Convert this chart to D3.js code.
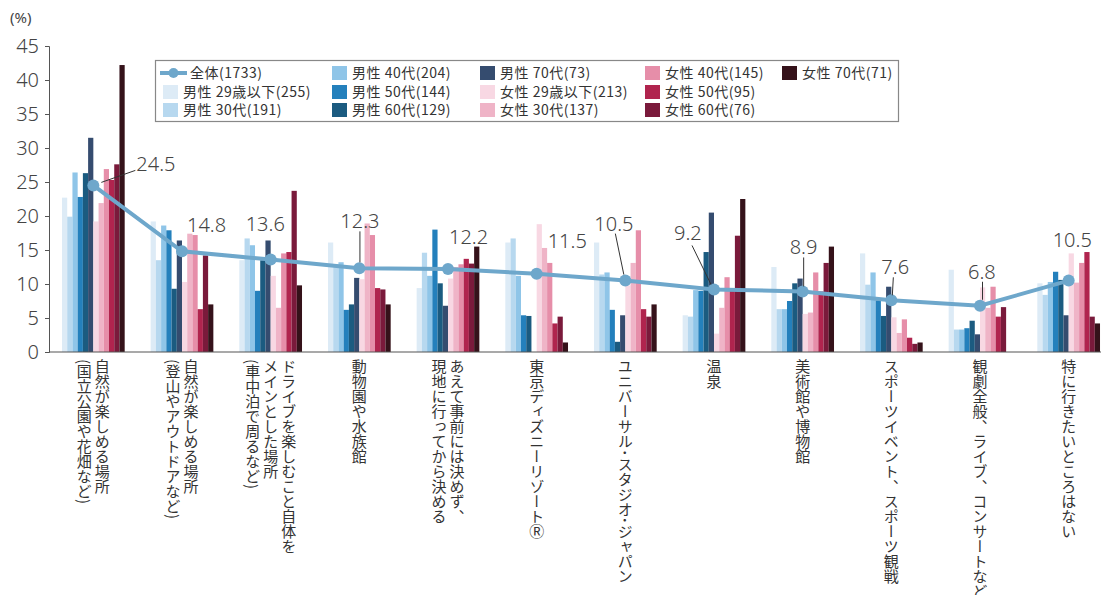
<!DOCTYPE html>
<html><head><meta charset="utf-8">
<script src="https://cdn.jsdelivr.net/npm/d3@7/dist/d3.min.js"></script>
<style>
html,body{margin:0;padding:0;background:#fff;}
svg{display:block;}
</style></head>
<body>
<svg id="chart" width="1101" height="595"></svg>
<script>
// ---------- data ----------
const categories = [
  "自然が楽しめる場所\n(国立公園や花畑など)",
  "自然が楽しめる場所\n(登山やアウトドアなど)",
  "ドライブを楽しむこと自体を\nメインとした場所\n(車中泊で周るなど)",
  "動物園や水族館",
  "あえて事前には決めず、\n現地に行ってから決める",
  "東京ディズニーリゾートⓇ",
  "ユニバーサル･スタジオ･ジャパン",
  "温泉",
  "美術館や博物館",
  "スポーツイベント、スポーツ観戦",
  "観劇全般、ライブ、コンサートなど",
  "特に行きたいところはない"
];
const seriesNames = ["男性 29歳以下","男性 30代","男性 40代","男性 50代","男性 60代","男性 70代",
                     "女性 29歳以下","女性 30代","女性 40代","女性 50代","女性 60代","女性 70代"];
const seriesN = [255,191,204,144,129,73,213,137,145,95,76,71];
const totalName = "全体";
const totalN = 1733;
const m29 = [22.7,19.2,13.5,16.1, 9.4,16.1,16.1, 5.4,12.5,14.5,12.1,10.1];
const m30 = [19.9,13.5,16.7,12.9,14.6,16.7,11.4, 5.2, 6.3, 9.9, 3.3, 8.4];
const m40 = [26.4,18.6,15.7,13.2,11.2,11.2,11.7, 9.1, 6.3,11.7, 3.3,10.3];
const m50 = [22.8,17.9, 9.0, 6.2,18.0, 5.4, 6.2, 9.0, 7.5, 7.6, 3.5,11.8];
const m60 = [26.3, 9.3,13.5, 7.0,10.1, 5.3, 1.5,14.7,10.1, 5.3, 4.6,10.6];
const m70 = [31.5,16.4,16.4,10.9, 6.8, 0.0, 5.4,20.5,10.8, 9.6, 2.6, 5.4];
const f29 = [19.2,10.3,11.2,10.7,10.8,18.8, 9.8, 2.7, 5.6, 5.1, 9.5,14.5];
const f30 = [21.9,17.4, 6.5,18.9,12.5,15.3,13.1, 6.5, 5.8, 2.8, 6.5,10.2];
const f40 = [26.9,17.2,14.5,17.2,12.9,13.1,17.9,11.0,11.7, 4.8, 9.6,13.1];
const f50 = [25.3, 6.3,14.7, 9.4,13.7, 4.2, 6.3, 9.0, 8.9, 2.1, 5.2,14.7];
const f60 = [27.6,14.2,23.7, 9.2,13.0, 5.2, 5.2,17.1,13.1, 1.2, 6.6, 5.2];
const f70 = [42.2, 7.0, 9.8, 7.0,15.5, 1.4, 7.0,22.5,15.5, 1.4, 0.0, 4.2];
const total = [24.5,14.8,13.6,12.3,12.2,11.5,10.5,9.2,8.9,7.6,6.8,10.5];
const yTicks = [0,5,10,15,20,25,30,35,40,45];

// ---------- styles / layout ----------
const seriesValues = [m29,m30,m40,m50,m60,m70,f29,f30,f40,f50,f60,f70];
const colors = ["#ddebf6","#b7d8ef","#8fc5e8","#2480bc","#1b5b80","#354c6f",
                "#f8d8e3","#efb4c7","#e68ea9","#b0244e","#7a1a3b","#35121a"];
const lineColor = "#6ea7cb";
// label offsets relative to line point: [dx, dy, leader? [x1,y1,x2,y2]]
const labelPos = [
  [43,-14,[8,-3,42,-15]],[5,-19,null],[-25,-29,null],[-19,-40,[0.6,-37,0.6,-6]],
  [1,-25,null],[11,-26,null],[-31,-50,[-10,-47,-1.5,-6]],[-40,-49,[-22,-44,-3,-5]],
  [-13,-37,[1,-34,1,-5]],[-10,-26,[2,-23,1,-5]],[-12,-27,[2.5,-24,2.5,-6]],[-16,-34,null]
];

const svg = d3.select("#chart");
const x = d3.scaleBand().domain(categories).range([49, 1113]).padding(0);
const bw = x.bandwidth();
const gw = 62.7;
const xi = d3.scaleBand().domain(seriesNames).range([(bw-gw)/2, (bw+gw)/2]).padding(0);
const y = d3.scaleLinear().domain([0,45]).range([352, 46]);

const numFont = "'Noto Sans', Lato, sans-serif";
const jpFont = "'Noto Sans CJK JP', 'Noto Sans', sans-serif";

// y axis
const yAxis = svg.append("g").attr("transform","translate(49,0)")
  .call(d3.axisLeft(y).tickValues(yTicks).tickSize(4).tickPadding(6).tickFormat(d3.format("d")));
yAxis.select(".domain").attr("stroke","#555");
yAxis.selectAll(".tick line").attr("stroke","#555");
yAxis.selectAll("text").attr("font-family",numFont).attr("font-size",20).attr("fill","#444").attr("font-weight",300);

svg.append("text").attr("x",10).attr("y",23).text("(%)")
  .attr("font-family",numFont).attr("font-size",15).attr("fill","#444");

// bars
const groups = svg.append("g").selectAll("g").data(categories).join("g")
  .attr("transform", d => `translate(${x(d)},0)`);
groups.selectAll("rect").data((d,ci) => seriesNames.map((s,si) => ({s, si, v: seriesValues[si][ci]})))
  .join("rect")
  .attr("x", d => xi(d.s)).attr("width", xi.bandwidth())
  .attr("y", d => y(d.v)).attr("height", d => y(0)-y(d.v))
  .attr("fill", d => colors[d.si]);

// x axis line
svg.append("line").attr("x1",49).attr("x2",1113).attr("y1",y(0)).attr("y2",y(0))
  .attr("stroke","#555").attr("stroke-width",1.2);

// total line
const cx = (d,i) => x(categories[i]) + bw/2;
const line = d3.line().x((d,i)=>cx(d,i)).y(d=>y(d));
svg.append("path").datum(total).attr("d",line).attr("fill","none")
  .attr("stroke",lineColor).attr("stroke-width",4);
svg.append("g").selectAll("circle").data(total).join("circle")
  .attr("cx",(d,i)=>cx(d,i)).attr("cy",d=>y(d)).attr("r",6).attr("fill",lineColor);

// labels
const lab = svg.append("g");
total.forEach((v,i) => {
  const px = cx(v,i), py = y(v);
  const [dx,dy,ld] = labelPos[i];
  if (ld) lab.append("line").attr("x1",px+ld[0]).attr("y1",py+ld[1]).attr("x2",px+ld[2]).attr("y2",py+ld[3])
    .attr("stroke","#333").attr("stroke-width",1);
  lab.append("text").attr("x",px+dx).attr("y",py+dy).text(d3.format(".1f")(v))
    .attr("font-family",numFont).attr("font-size",20).attr("fill","#444").attr("font-weight",300);
});

// category labels (vertical)
const cl = svg.append("g");
categories.forEach((c,i) => {
  const lines = c.split("\n");
  const center = x(c) + bw/2;
  lines.forEach((t,j) => {
    cl.append("text")
      .attr("x", center + (lines.length-1)/2*18 - j*18)
      .attr("y", 359)
      .style("writing-mode","vertical-rl")
      .attr("font-family",jpFont).attr("font-size",15).attr("fill","#333")
      .text(t);
  });
});

// legend
const lg = svg.append("g");
lg.append("rect").attr("x",155.5).attr("y",60.5).attr("width",743).attr("height",61)
  .attr("fill","#fff").attr("stroke","#888").attr("stroke-width",1.2);
const legendItems = [{name: totalName, n: totalN, line: true}]
  .concat(seriesNames.map((s,i)=>({name:s, n:seriesN[i], color:colors[i]})));
const colX = [163, 332, 480, 645, 782];
const rowY = [73, 92, 110];
legendItems.forEach((it,k) => {
  const c = Math.floor(k/3), r = k%3;
  const lx = colX[c], ly = rowY[r];
  if (it.line) {
    lg.append("line").attr("x1",lx-3).attr("x2",lx+24).attr("y1",ly).attr("y2",ly)
      .attr("stroke",lineColor).attr("stroke-width",4);
    lg.append("circle").attr("cx",lx+10.5).attr("cy",ly).attr("r",5).attr("fill",lineColor);
  } else {
    lg.append("rect").attr("x",lx).attr("y",ly-7).attr("width",15).attr("height",14).attr("fill",it.color);
  }
  lg.append("text").attr("x", lx + (it.line ? 27 : 20)).attr("y", ly+5)
    .text(`${it.name}(${it.n})`)
    .attr("font-family",jpFont).attr("font-size",14).attr("letter-spacing",0.5).attr("fill","#333");
});
</script>
</body></html>
